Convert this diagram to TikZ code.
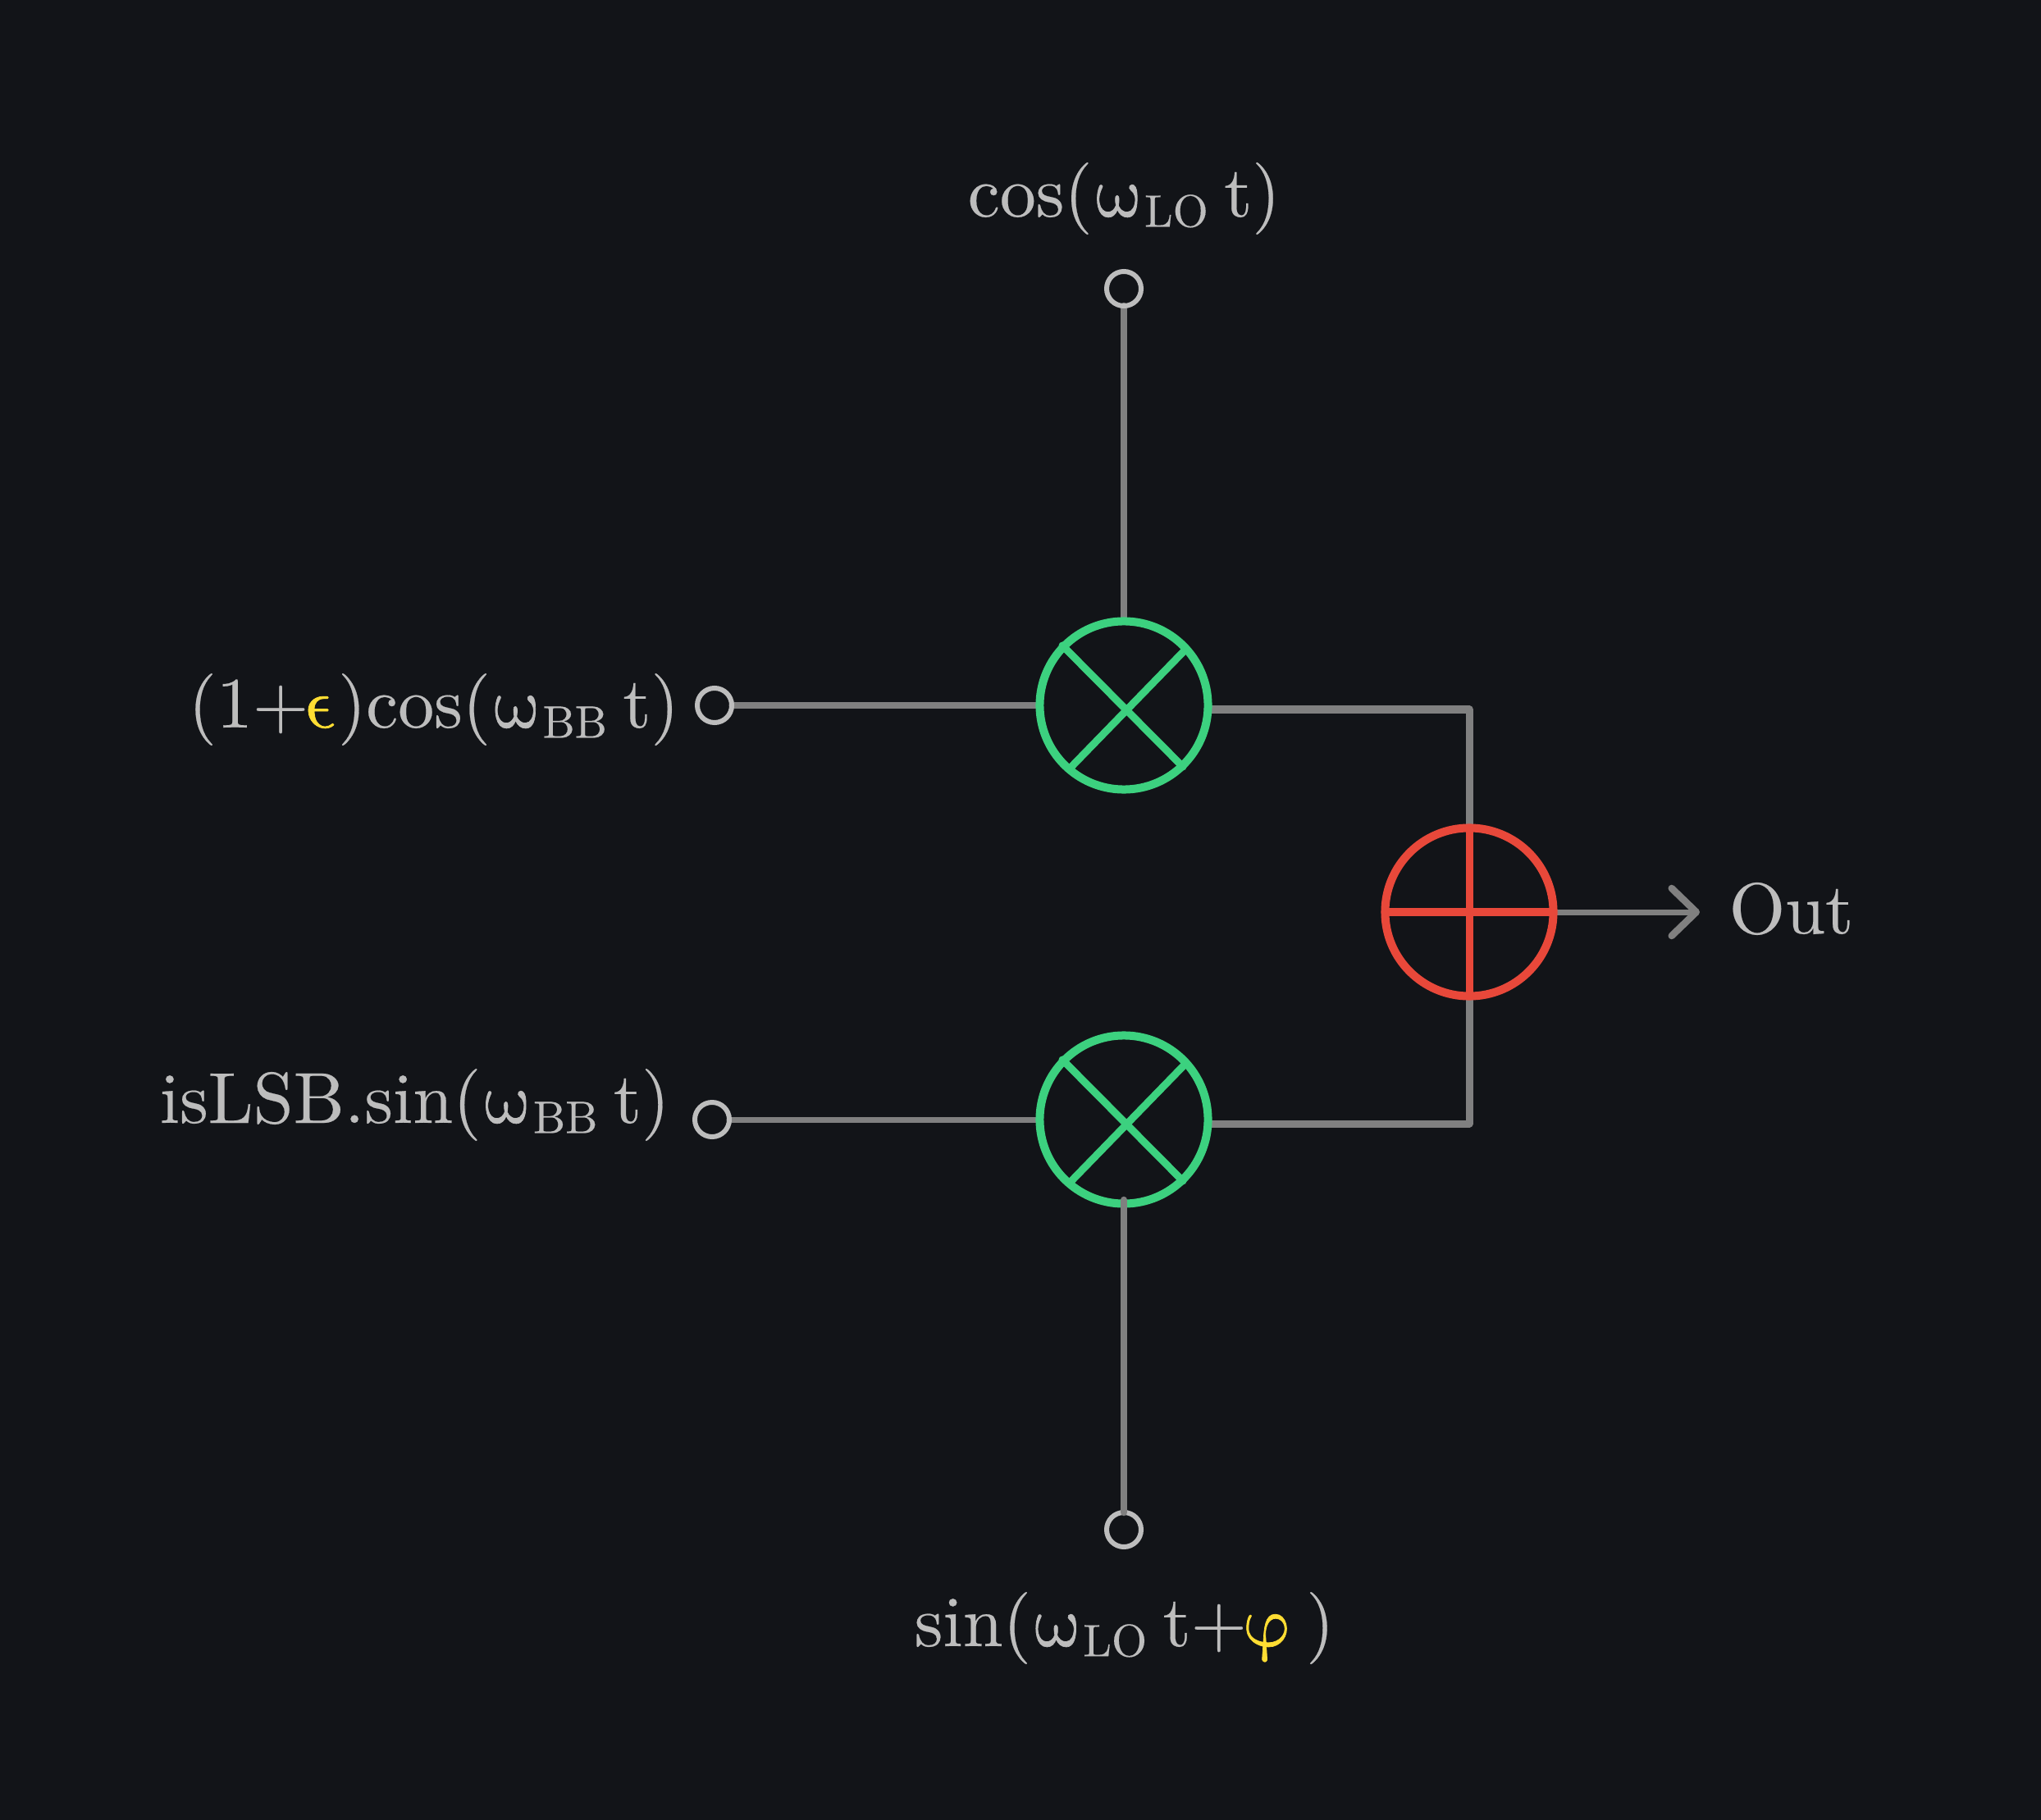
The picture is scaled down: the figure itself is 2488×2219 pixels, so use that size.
\documentclass[tikz,border=0pt]{standalone}
\usepackage{fontspec}
\usepackage{xcolor}
\usetikzlibrary{arrows.meta,backgrounds}
\setmainfont[FakeBold=0.25]{lmroman10-regular.otf}
\newfontface\gkface[FakeSlant=-0.25,FakeBold=0.8]{latinmodern-math.otf}
\definecolor{bgcol}{HTML}{121418}
\definecolor{wirecol}{HTML}{808080}
\definecolor{textcol}{HTML}{BDBDBD}
\definecolor{mixcol}{HTML}{3CD17F}
\definecolor{addcol}{HTML}{E8483A}
\definecolor{hlcol}{HTML}{FFDD33}
\newcommand{\hlt}[1]{\textcolor{hlcol}{#1}}
\newcommand{\subtxt}[1]{\raisebox{-1.4pt}{\fontsize{6.3}{7}\selectfont #1}\kern2.2pt}
\newcommand{\gkomega}{\kern1pt{\gkface\char"1D714}}
\newcommand{\gkeps}{{\gkface\char"1D716}}
\newcommand{\gkphi}{{\gkface\char"1D711}}
\tikzset{
    mixer/.style={circle, draw=mixcol, line width=0.1cm, minimum size=2.05cm, inner sep=0pt, outer sep=0pt},
    adder/.style={circle, draw=addcol, line width=0.1cm, minimum size=2.05cm, inner sep=0pt, outer sep=0pt},
    port/.style={circle, draw=textcol, line width=0.06cm, minimum size=0.42cm, inner sep=0pt, outer sep=0pt},
    lbl/.style={text=textcol, scale=2.5, anchor=base west, inner sep=0pt},
    wire/.style={draw=wirecol, line width=0.085cm, line cap=round, line join=round},
    thinwire/.style={draw=wirecol, line width=0.07cm, line cap=round},
}

\begin{document}
\begin{tikzpicture}[x=0.01cm, y=-0.01cm]
    \useasboundingbox (0,0) rectangle (2488,2219);

    \node[mixer] (mixa) at (1370,860) {};
    \node[mixer] (mixb) at (1370,1365) {};
    \node[adder] (sum) at (1791,1112) {};
    \node[port] (portlo) at (1370,352) {};
    \node[port] (portcos) at (871,860) {};
    \node[port] (portsin) at (868,1365) {};
    \node[port] (portlos) at (1370,1865) {};

    \coordinate (mixaout) at (1472,865);
    \coordinate (mixbout) at (1472,1370);
    \coordinate (joina) at (1791,865);
    \coordinate (joinb) at (1791,1370);
    \coordinate (stubb) at (1370,1463);
    \coordinate (outtip) at (2072,1112);

    \begin{scope}[on background layer]
        \fill[bgcol] (0,0) rectangle (2488,2219);
        \draw[wire] (portlo) -- (mixa.north);
        \draw[thinwire] (portcos) -- (mixa.west);
        \draw[thinwire] (portsin) -- (mixb.west);
        \draw[wire, line width=0.09cm] (mixaout) -- (joina) -- (sum.north);
        \draw[wire, line width=0.09cm] (mixbout) -- (joinb) -- (sum.south);
        \draw[thinwire, -{Straight Barb[round, length=0.3cm, width=0.58cm, line width=0.085cm]}] (sum.east) -- (outtip);
    \end{scope}

    \draw[wire] (stubb) -- (portlos);

    \foreach \m in {mixa,mixb} {
        \draw[mixcol, line width=0.09cm, line cap=round] ([shift={(-75,-73)}]\m.center) -- ([shift={(72,75)}]\m.center);
        \draw[mixcol, line width=0.09cm, line cap=round] ([shift={(76,-69)}]\m.center) -- ([shift={(-66,77)}]\m.center);
    }
    \draw[addcol, line width=0.09cm] (sum.north) -- (sum.south);
    \draw[addcol, line width=0.09cm] (sum.west) -- (sum.east);

    \node[lbl] (lbllo) at (1178,264) {cos(\gkomega\subtxt{LO}t)};
    \node[lbl] (lblcos) at (228,887) {(1+\hlt{\gkeps})cos(\gkomega\subtxt{BB}t)};
    \node[lbl] (lblsin) at (193,1369) {isLSB.sin(\gkomega\subtxt{BB}t)};
    \node[lbl] (lbllos) at (1113,2007) {sin(\gkomega\subtxt{LO}t+\hlt{\gkphi}\,)};
    \node[lbl] (lblout) at (2106,1138) {Out};
\end{tikzpicture}
\end{document}
